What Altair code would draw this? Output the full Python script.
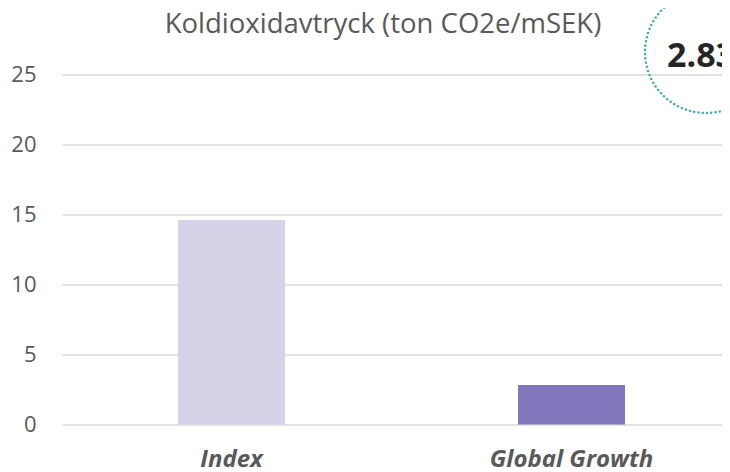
import altair as alt
import pandas as pd

categories = ["Index", "Global Growth"]
values = [14.6, 2.83]
bar_colors = ["#D5D3E8", "#8276BC"]
y_ticks = [0, 5, 10, 15, 20, 25]
title_text = ["Koldioxidavtryck (ton CO2e/mSEK)"]
highlight_value = [2.83]

df = pd.DataFrame({"cat": categories, "val": values, "color": bar_colors})
df_hl = pd.DataFrame({"val": highlight_value, "label": [f"{v:.2f}" for v in highlight_value]})
df_title = pd.DataFrame({"t": title_text})

FONT = "Open Sans"

bars = alt.Chart(df).mark_bar().encode(
    x=alt.X("cat:N", sort=categories, title=None,
            scale=alt.Scale(paddingInner=0.6853, paddingOuter=0.3132, align=0.5446),
            axis=alt.Axis(labelAngle=0, labelFont=FONT, labelFontSize=24, labelFontStyle="italic",
                          labelFontWeight="bold", labelColor="#595959", labelPadding=23,
                          ticks=False, domain=False, grid=False)),
    y=alt.Y("val:Q", title=None,
            scale=alt.Scale(domain=[0, 25], nice=False),
            axis=alt.Axis(values=y_ticks, labelFont=FONT, labelFontSize=22, labelColor="#595959",
                          labelPadding=26, ticks=False, domain=False, grid=True,
                          gridColor="#D9D9D9", gridWidth=1.5)),
    color=alt.Color("color:N", scale=None),
)

circle = alt.Chart(df_hl).mark_point(
    shape="circle", filled=False, stroke="#3FB3AA", strokeWidth=2.5,
    strokeDash=[0.1, 4.2], strokeCap="round", opacity=1,
).encode(
    x=alt.value(644), y=alt.value(-22.5), size=alt.value(122 * 122),
)

label = alt.Chart(df_hl).mark_text(
    font=FONT, fontSize=34, fontWeight="bold",
    color="#262626", align="left", baseline="alphabetic",
).encode(
    x=alt.value(605), y=alt.value(-7.5), text="label:N",
)

title = alt.Chart(df_title).mark_text(
    font=FONT, fontSize=27.5, color="#595959", align="center", baseline="alphabetic",
).encode(
    x=alt.value(321), y=alt.value(-41.5), text="t:N",
)

chart = alt.layer(bars, circle, label, title).properties(
    width=660, height=350,
    autosize=alt.AutoSizeParams(type="none"),
    padding={"left": 54, "top": 66.5, "right": 0, "bottom": 47},
).configure_view(stroke=None)

chart.save("out.html", embed_options={"renderer": "svg", "actions": False})
